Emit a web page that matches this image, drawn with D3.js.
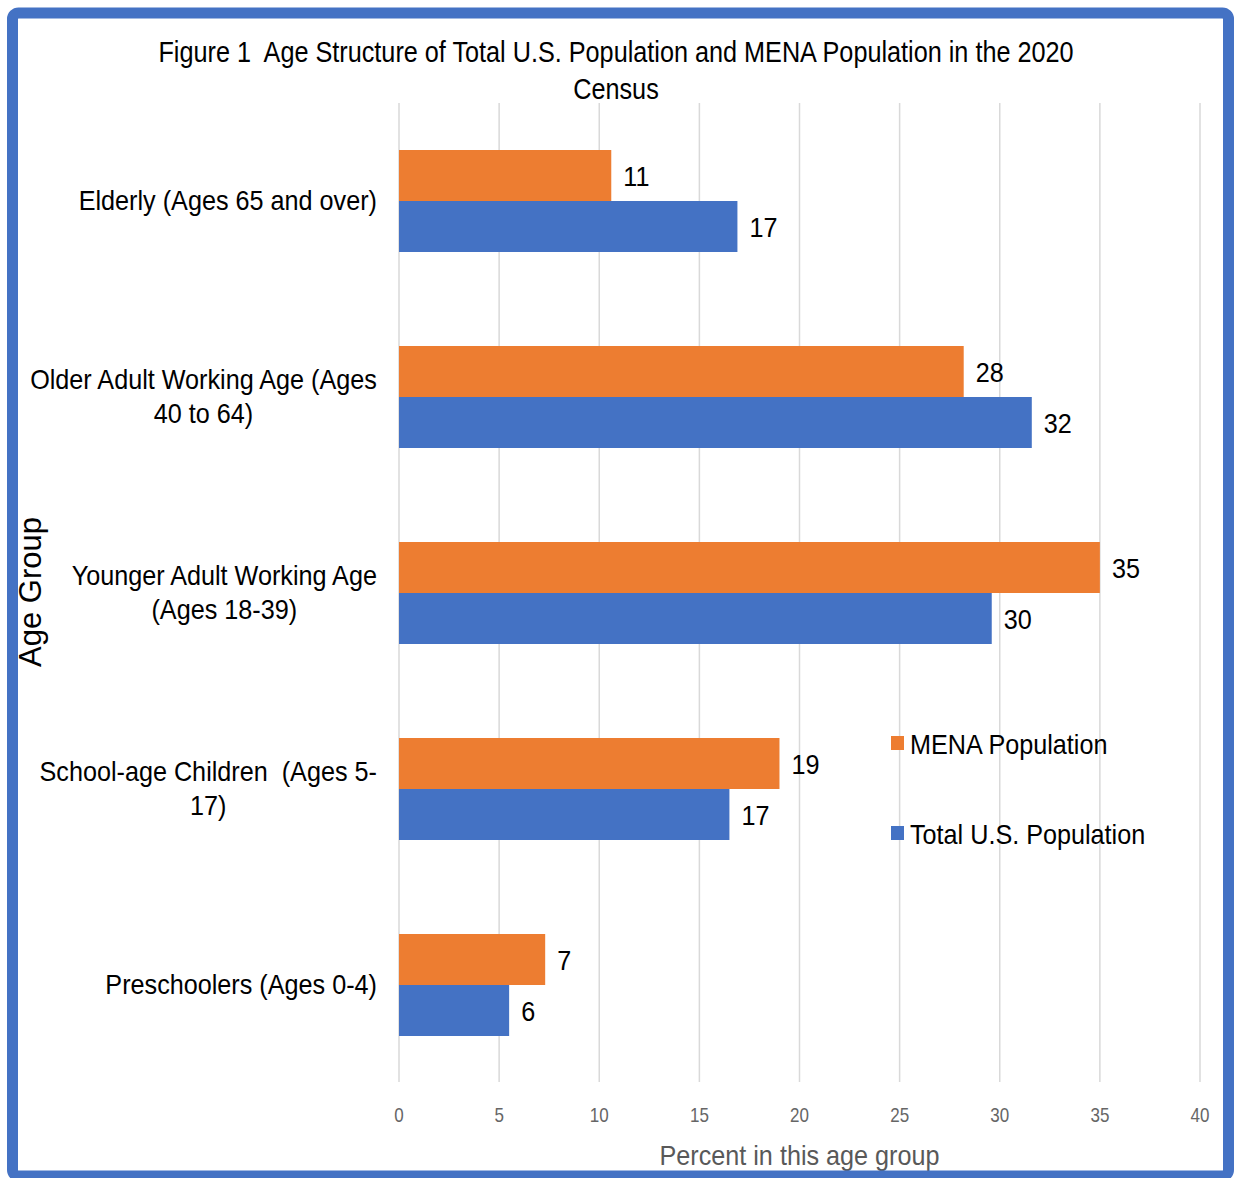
<!DOCTYPE html>
<html lang="en">
<head>
  <meta charset="UTF-8">
  <title>Age Structure of Total U.S. Population and MENA Population</title>
  <script src="https://d3js.org/d3.v7.min.js"></script>
  <style>
    body {
      margin: 0;
      padding: 0;
      background: #fff;
    }
    svg text {
      font-family: "Liberation Sans", Arial, sans-serif;
      white-space: pre;
    }
  </style>
</head>
<body>
  <div id="chart"></div>

  <script>
  // chart data
  const categories = [
    "Elderly (Ages 65 and over)",
    "Older Adult Working Age (Ages 40 to 64)",
    "Younger Adult Working Age (Ages 18-39)",
    "School-age Children  (Ages 5-17)",
    "Preschoolers (Ages 0-4)"
  ];
  // label lines as they wrap in the picture
  const categoryLines = [
    ["Elderly (Ages 65 and over)"],
    ["Older Adult Working Age (Ages", "40 to 64)"],
    ["Younger Adult Working Age", "(Ages 18-39)"],
    ["School-age Children  (Ages 5-", "17)"],
    ["Preschoolers (Ages 0-4)"]
  ];
  const menaValues = [10.6, 28.2, 35.0, 19.0, 7.3];
  const totalValues = [16.9, 31.6, 29.6, 16.5, 5.5];
  const seriesNames = ["MENA Population", "Total U.S. Population"];
  const xTicks = [0, 5, 10, 15, 20, 25, 30, 35, 40];

  const width = 1237, height = 1178;
  const colors = { "MENA Population": "#ED7D31", "Total U.S. Population": "#4472C4" };

  const svg = d3.select("#chart").append("svg")
    .attr("width", width)
    .attr("height", height);

  // no narrow font installed, so squeeze text horizontally
  function narrowText(parent, px, py, sx, anchor) {
    return parent.append("g")
      .attr("transform", `translate(${px},${py}) scale(${sx},1)`)
      .append("text")
      .attr("text-anchor", anchor);
  }

  const x = d3.scaleLinear().domain([0, 40]).range([399, 1200]);
  const y = d3.scaleBand().domain(categories).range([103, 1083]);
  const inner = d3.scaleBand().domain(seriesNames).range([0, 102]);

  // gridlines
  svg.append("g")
    .selectAll("line")
    .data(xTicks)
    .join("line")
    .attr("x1", d => x(d)).attr("x2", d => x(d))
    .attr("y1", 103).attr("y2", 1082)
    .attr("stroke", "#d9d9d9")
    .attr("stroke-width", 1.5);

  // tick labels
  xTicks.forEach(t => {
    narrowText(svg, x(t), 1122, 0.85, "middle")
      .attr("fill", "#666")
      .style("font-size", "20px")
      .text(t);
  });

  // bars
  const rows = categories.map((c, i) => ({
    cat: c,
    vals: [
      { s: seriesNames[0], v: menaValues[i] },
      { s: seriesNames[1], v: totalValues[i] }
    ]
  }));

  const groups = svg.append("g")
    .selectAll("g")
    .data(rows)
    .join("g")
    .attr("transform", d => `translate(0, ${y(d.cat) + (y.bandwidth() - 102) / 2})`);

  groups.selectAll("rect")
    .data(d => d.vals)
    .join("rect")
    .attr("x", x(0))
    .attr("y", d => inner(d.s))
    .attr("width", d => x(d.v) - x(0))
    .attr("height", inner.bandwidth())
    .attr("fill", d => colors[d.s]);

  groups.each(function (d) {
    const g = d3.select(this);
    d.vals.forEach(v => {
      narrowText(g, x(v.v) + 12, inner(v.s) + inner.bandwidth() / 2 + 10, 0.9, "start")
        .attr("fill", "#000")
        .style("font-size", "28px")
        .text(Math.round(v.v));
    });
  });

  // category labels, lines centred, block right aligned
  const sxCat = 0.9;
  categoryLines.forEach((lines, i) => {
    const cy = y(categories[i]) + y.bandwidth() / 2;
    const g = svg.append("g");
    const t = g.append("text")
      .attr("text-anchor", "middle")
      .attr("fill", "#000")
      .style("font-size", "28px");
    const spans = lines.map((ln, j) => t.append("tspan")
      .attr("x", 0)
      .attr("y", 10 + (j - (lines.length - 1) / 2) * 35)
      .text(ln));
    const maxW = d3.max(spans, s => s.node().getComputedTextLength()) * sxCat;
    g.attr("transform", `translate(${377 - maxW / 2},${cy - 1}) scale(${sxCat},1)`);
  });

  // title
  narrowText(svg, 616, 62, 0.87, "middle")
    .style("font-size", "29px")
    .text("Figure 1  Age Structure of Total U.S. Population and MENA Population in the 2020");
  narrowText(svg, 616, 99, 0.87, "middle")
    .style("font-size", "29px")
    .text("Census");

  // axis titles
  narrowText(svg, x(20), 1165, 0.9, "middle")
    .attr("fill", "#595959")
    .style("font-size", "28px")
    .text("Percent in this age group");

  svg.append("text")
    .attr("transform", "translate(41, 592) rotate(-90)")
    .attr("text-anchor", "middle")
    .style("font-size", "31px")
    .text("Age Group");

  // legend
  const legend = svg.append("g")
    .selectAll("g")
    .data(seriesNames)
    .join("g")
    .attr("transform", (d, i) => `translate(891, ${736 + i * 90})`);
  legend.append("rect")
    .attr("width", 13).attr("height", 14)
    .attr("fill", d => colors[d]);
  legend.each(function (d) {
    narrowText(d3.select(this), 19, 18, 0.9, "start")
      .style("font-size", "28px")
      .text(d);
  });

  // blue frame
  svg.append("rect")
    .attr("x", 12.5).attr("y", 13)
    .attr("width", 1216).attr("height", 1163)
    .attr("rx", 6)
    .attr("fill", "none")
    .attr("stroke", "#4472C4")
    .attr("stroke-width", 11);
  </script>
</body>
</html>
